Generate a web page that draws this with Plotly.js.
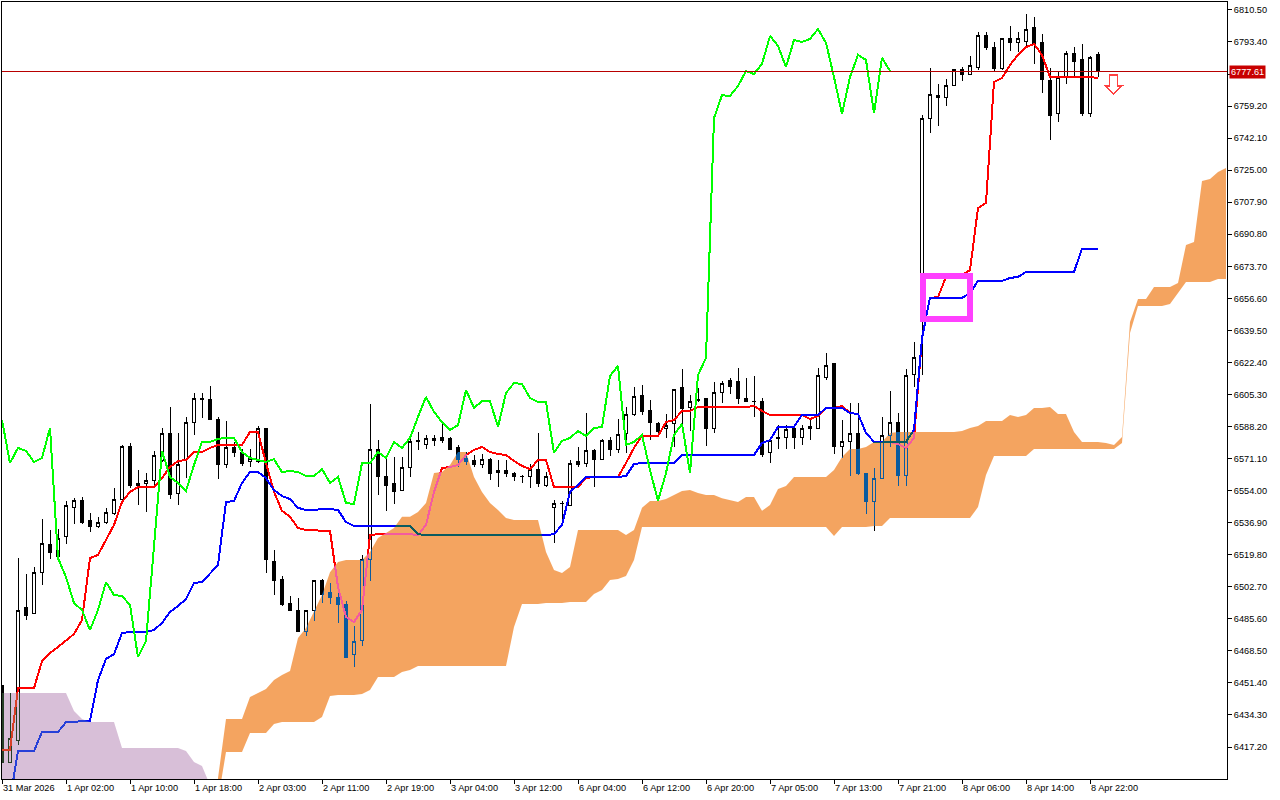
<!DOCTYPE html>
<html><head><meta charset="utf-8">
<script src="https://cdn.plot.ly/plotly-3.0.1.min.js"></script>
<style>
html,body{margin:0;padding:0;background:#fff}
#chart{width:1280px;height:800px}
.scatterlayer .js-fill{mix-blend-mode:difference}
.scatterlayer .js-line,.boxlayer path,.shapelayer path{shape-rendering:crispEdges}
</style></head><body><div id="chart"></div>
<script>
const opens=[6450.2,6409.2,6420.9,6491.4,6488.2,6510.5,6525.5,6518.6,6529.3,6545.2,
6549,6538.3,6534.6,6537.2,6542,6549.5,6577.3,6558,6557.6,6559.2,
6570.3,6584.3,6552.7,6570.8,6590.1,6603.4,6602.4,6592.2,6567.7,6576.8,
6574.1,6569.3,6569.3,6586.9,6516.4,6506.8,6494,6490.3,6479.1,6489.8,
6506.3,6499.4,6497.2,6493.5,6466.3,6474.3,6517.5,6575.7,6561.8,6557.6,
6554.3,6566.6,6581,6578.4,6581.6,6582.1,6581.6,6576.8,6571.4,6570.3,
6568.2,6570.8,6563.9,6565,6563.4,6561.8,6561.3,6565.5,6557,6544.8,
6547.4,6546.3,6569.3,6568.7,6575.2,6570.8,6580.5,6576.2,6584.3,6594.4,
6604.5,6597,6589.6,6586.9,6589.6,6608.8,6598.1,6602.4,6602.9,6587.4,
6606.6,6613,6612.5,6603.4,6601.8,6601.3,6574.6,6581.6,6582.1,6586.9,
6582.6,6588,6587.4,6614.6,6621.6,6577.8,6580,6584.3,6562.9,6548,
6560.7,6583.2,6590.1,6562.3,6616.2,6644,6752.8,6765,6764,6770.4,
6778.5,6775.8,6780,6797.1,6790.7,6779.5,6795,6792.9,6793.9,6800.9,
6792.9,6773.1,6755.5,6775.2,6787,6783.8,6755,6786.5];
const closes=[6409.2,6421.5,6490.3,6487.6,6510.5,6526,6521.2,6528.7,6546.3,6549,
6537.2,6534.6,6537.2,6542.6,6549.5,6577.3,6556.5,6557,6559.2,6573,
6584.3,6552.2,6567.7,6590.1,6603.4,6602.4,6592.2,6567.7,6576.8,6574.6,
6568.7,6571.4,6587.4,6517,6506.3,6493.5,6489.8,6479.1,6489.8,6505.8,
6498.8,6497.2,6493,6465.2,6473.7,6517,6575.7,6561.3,6557,6553.3,
6566.1,6580,6580,6581.6,6580.5,6581,6575.7,6570.8,6569.8,6568.2,
6570.8,6563.4,6565,6563.4,6561.3,6561.3,6565.5,6557.6,6561.3,6546.9,
6546.9,6568.7,6568.2,6575.2,6570.8,6580.5,6576.2,6583.7,6594.4,6604,
6596,6590.1,6585.8,6589,6608.2,6597.6,6601.8,6602.1,6587.4,6606.6,
6611.4,6609.8,6602.9,6601.3,6601.3,6573.5,6580.5,6582.1,6586.4,6582.6,
6586.9,6587.4,6615.2,6621,6577.8,6580,6584.3,6562.9,6548,6560.7,
6583.2,6590.1,6562.3,6615.7,6624.8,6752.8,6765.6,6764,6770.4,6778.5,
6775.8,6780.6,6797.1,6790.7,6779.5,6795,6792.9,6795,6800.3,6792.3,
6773.6,6754.4,6774.7,6787,6783.2,6755,6784.9,6777.6];
const highs=[6450.2,6446,6518,6509.5,6513.3,6538.8,6533,6533.5,6548.5,6550,
6550.6,6542,6540,6544.8,6555.4,6578.4,6579.4,6565,6563.4,6575.2,
6587.4,6598.6,6584.8,6593.3,6606.1,6606.1,6609.8,6593.3,6591.1,6580,
6576.2,6576.2,6588.5,6587.4,6522.3,6508.4,6497.8,6496.7,6490.3,6506.3,
6506.8,6504.7,6502.6,6495.1,6481.8,6519.7,6600.2,6581,6572.5,6572,
6572,6583.2,6585.3,6583.7,6583.7,6589.6,6582.6,6578.4,6574.6,6573,
6573.5,6571.4,6570.3,6570.3,6563.9,6562.3,6568.2,6584.8,6563.9,6549,
6548.5,6570.3,6577.3,6595.4,6576.2,6581.6,6582.6,6592.2,6598.6,6609.3,
6610.4,6602.4,6590.6,6594.9,6608.2,6618.9,6605,6608.8,6602.9,6612,
6612.5,6614.1,6619.4,6614.1,6615.2,6603.4,6581,6589,6589,6589,
6589,6591.7,6619.4,6627.4,6621.6,6591.7,6600.8,6600.8,6563.4,6566.1,
6593.3,6607.2,6595.4,6618.9,6633.3,6754.4,6779.5,6771,6773.6,6779,
6780,6785.9,6798.7,6798.7,6793.4,6795.5,6802,6798.7,6808.3,6806.7,
6797.7,6779.5,6777.4,6788.6,6790.7,6792.3,6785.9,6788];
const lows=[6409.2,6409.2,6418.2,6485,6488.2,6503.6,6517.5,6518.6,6525.5,6536.2,
6536.2,6531.9,6534,6536.2,6541,6548.5,6555.4,6546.3,6542.6,6555.4,
6569.3,6549.5,6546.3,6560.7,6583.7,6592.8,6591.7,6560.2,6566.1,6572,
6567.2,6566.6,6568.7,6510,6498.3,6492.4,6489.8,6479.1,6476.4,6484.4,
6494,6493.5,6483.4,6465.2,6459.9,6471.1,6505.8,6551.7,6543.2,6546.9,
6554.3,6561.3,6575.7,6576.2,6577.8,6579.4,6575.7,6566.6,6567.7,6566.6,
6566.1,6559.7,6555.9,6561.3,6559.2,6558.1,6555.4,6555.9,6555.9,6526,
6535.7,6546.3,6566.6,6566.6,6555.9,6570.8,6572.5,6574.1,6574.1,6593.8,
6594.4,6581,6582.6,6582.1,6577.3,6588,6585.8,6601.3,6577.8,6584.8,
6600.8,6605.6,6600.2,6601.3,6593.3,6572,6568.7,6576.2,6576.2,6576.2,
6578.4,6581,6587.4,6613,6573.5,6571.4,6561.8,6562.3,6541.6,6532.5,
6560.2,6577.3,6556.5,6556.5,6609.3,6615.7,6744.8,6748.6,6759.2,6770.4,
6772.6,6775.8,6778.5,6789.1,6777.9,6778.5,6788.6,6788,6790.7,6781.7,
6766.2,6741.1,6750.7,6771,6774.7,6753.9,6753.4,6774.7];
const tenkan=[6415.6,6415.6,6448.6,6448.6,6448.6,6463.1,6467.4,6470.6,6474.3,6477.5,
6485,6518,6519.7,6527.7,6535.7,6547.9,6553.3,6555.9,6555.9,6555.9,
6560.7,6566.6,6569.8,6570.3,6574.6,6574.6,6576.8,6578.4,6578.4,6578.4,
6578.4,6585.3,6585.3,6568.7,6553.3,6543.2,6540,6534.1,6533,6533,
6532.5,6532.5,6502.6,6486.6,6483.9,6490.3,6530.3,6530.8,6530.8,6530.8,
6530.8,6530.8,6530.3,6535.7,6553.3,6566.1,6566.6,6567.7,6573,6575.7,
6577.3,6574.6,6573.5,6573,6569.8,6567.2,6565.5,6570.3,6570.3,6555.9,
6555.9,6555.9,6555.9,6560.7,6561.3,6561.3,6561.3,6561.3,6568.7,6576.8,
6583.2,6583.2,6583.2,6590.6,6591.7,6596.5,6596.5,6598.6,6598.6,6598.6,
6598.6,6598.6,6598.6,6598.6,6599.2,6596.5,6594.4,6594.4,6594.4,6594.4,
6594.4,6592.2,6593.8,6598.1,6598.1,6599.2,6595.4,6594.9,6584.8,6580,
6580,6580,6578.9,6576.8,6582.1,6635.4,6656.8,6657.3,6668,6669,
6669,6671.7,6704.8,6707.5,6772,6774.2,6781.1,6786.5,6790.7,6792.3,
6786.5,6774.7,6774.7,6774.7,6774.7,6774.7,6774.7,6774.2];
const kijun=[6388.9,6388.9,6415.1,6415.1,6415.1,6425.2,6425.2,6425.2,6430.5,6430.5,
6431.1,6431.1,6452.9,6464.2,6466.8,6478,6478.6,6478.6,6478.6,6479.6,
6483.4,6489.2,6492.4,6496.2,6504.7,6505.2,6510,6514.3,6547.9,6548.5,
6558.1,6563.9,6563.9,6560.7,6554.3,6551.1,6549.5,6544.8,6543.7,6543.7,
6544.2,6544.2,6543.7,6537.2,6535.1,6535.1,6535.1,6535.1,6535.1,6535.1,
6535.1,6535.1,6530.8,6530.3,6530.3,6530.3,6530.3,6530.3,6530.3,6530.3,
6530.3,6530.3,6530.3,6530.3,6530.3,6530.3,6530.3,6530.3,6530.3,6530.8,
6535.7,6553.3,6557,6561.3,6561.3,6561.3,6561.3,6561.3,6561.8,6568.2,
6568.7,6568.7,6568.7,6568.7,6568.7,6573,6573,6573,6573,6573,
6573,6573,6573,6573,6573,6579.4,6581,6588,6588,6588,
6594.4,6594.4,6594.4,6598.1,6598.1,6598.1,6595.4,6594.9,6584.8,6580,
6580,6580,6580,6580,6586.4,6635.4,6656.8,6656.8,6656.8,6656.8,
6656.8,6659.4,6665.9,6665.9,6665.9,6665.9,6667.5,6668,6670.7,6670.7,
6670.7,6670.7,6670.7,6670.7,6670.7,6683,6683,6683];
const chikou=[6591.7,6568.7,6576.8,6575.2,6569.3,6571.4,6587.4,6518,6507.9,6494,
6490.3,6479.6,6490.3,6505.2,6498.3,6497.8,6493,6465.2,6473.7,6526,
6575.2,6561.3,6558.1,6553.8,6567.7,6580,6580,6581.6,6582.1,6582.1,
6574.6,6571.4,6570.3,6569.3,6570.8,6563.9,6564.5,6563.9,6561.8,6561.8,
6565.5,6558.1,6561.3,6547.4,6546.9,6568.7,6568.7,6574.6,6571.4,6580,
6576.8,6582.1,6593.3,6604,6596,6590.6,6586.4,6589,6607.7,6598.1,
6601.8,6601.8,6588,6606.1,6611.4,6610.9,6603.4,6601.3,6601.3,6574.1,
6580.5,6582.1,6585.8,6583.2,6587.4,6588,6615.2,6620.5,6578.4,6580,
6583.7,6565,6548.5,6563.4,6583.7,6589.6,6563.4,6615.7,6624.8,6752.8,
6765,6764.6,6769.9,6777.9,6776.3,6781.7,6796.6,6791.3,6780,6794.5,
6793.4,6795,6800.3,6792.9,6774.7,6755,6774.7,6786.5,6783.8,6755.5,
6784.9,6777.9];
const thistleTop=[6446,6446,6446,6446,6446,6446,6446,6446,6446,6436.4,
6432.1,6430.5,6430.5,6430.5,6430.5,6416.7,6416.7,6416.7,6416.7,6416.7,
6416.7,6416.7,6416.7,6415.1,6409.2,6407,6396.9];
const thistleBase=[6388.9,6388.9,6388.9,6388.9,6388.9,6388.9,6388.9,6388.9,6388.9,6388.9,
6388.9,6388.9,6388.9,6388.9,6388.9,6388.9,6388.9,6388.9,6388.9,6388.9,
6388.9,6388.9,6388.9,6388.9,6388.9,6388.9,6388.9];
const sandyTop=[6400.6,6432.1,6432.1,6432.1,6443.9,6446,6448.1,6452.9,6455.6,6457.8,
6475.4,6480.7,6489.2,6498.3,6510.5,6515.9,6517,6517,6517,6521.2,
6528.7,6531.4,6534.1,6540,6540,6542.6,6547.4,6563.4,6563.9,6567.7,
6574.6,6574.6,6561.3,6553.3,6547.4,6543.7,6539.4,6538.3,6538.3,6538.3,
6538.3,6521.2,6511.6,6510,6513.3,6533,6533,6533,6533,6533,
6533,6530.3,6533,6544.8,6548.5,6548.5,6549.5,6551.7,6553.8,6554.3,
6552.7,6551.7,6551.7,6550,6549,6547.9,6550.6,6550.6,6543.2,6546.3,
6554.9,6556.5,6561.3,6561.3,6561.3,6561.3,6561.3,6565,6572,6576.2,
6576.2,6577.3,6580,6580,6584.8,6585.3,6585.3,6585.3,6585.3,6585.3,
6585.3,6585.3,6585.3,6585.8,6587.4,6588.5,6591.1,6591.1,6591.1,6594.4,
6593.3,6594.4,6598.1,6598.1,6598.6,6594.9,6594.9,6585.3,6580,6580,
6580,6579.4,6578.4,6582.6,6644,6656.3,6656.3,6662.7,6662.7,6662.7,
6664.8,6685.1,6686.7,6719.2,6720.3,6724,6726.2];
const sandyBase=[6388.9,6414.5,6414.5,6414.5,6424.7,6424.7,6424.7,6429.5,6430.5,6430.5,
6430.5,6430.5,6430.5,6433.2,6444.4,6445,6445,6445,6445.5,6447.6,
6454.6,6454.6,6454.6,6457.2,6458.3,6460.4,6460.4,6460.4,6460.4,6460.4,
6460.4,6460.4,6460.4,6460.4,6460.4,6460.4,6460.4,6481.3,6493.5,6493.5,
6493.5,6494,6494,6494,6494.6,6494.6,6494.6,6498.8,6501,6506.3,
6506.8,6508.4,6517,6534.6,6534.6,6534.6,6534.6,6534.6,6534.6,6534.6,
6534.6,6534.6,6534.6,6534.6,6534.6,6534.6,6534.6,6534.6,6534.6,6534.6,
6534.6,6534.6,6534.6,6534.6,6534.6,6534.6,6534.6,6529.8,6534.6,6534.6,
6534.6,6534.6,6535.1,6535.1,6539.4,6539.4,6539.4,6539.4,6539.4,6539.4,
6539.4,6539.4,6539.4,6539.4,6539.4,6545.2,6562.3,6572.5,6572.5,6572.5,
6572.5,6572.5,6576.2,6576.2,6576.2,6576.2,6576.2,6576.2,6576.2,6576.2,
6576.2,6576.2,6576.2,6579.4,6638.1,6652.5,6652.5,6652.5,6652.5,6653.6,
6659.4,6665.3,6665.3,6665.3,6665.3,6666.9,6666.9];
const xTickIdx=[0,8,16,24,32,40,48,56,64,72,80,88,96,104,112,120,128,136];
const xTickText=["31 Mar 2026","1 Apr 02:00","1 Apr 10:00","1 Apr 18:00","2 Apr 03:00","2 Apr 11:00","2 Apr 19:00","3 Apr 04:00","3 Apr 12:00","6 Apr 04:00","6 Apr 12:00","6 Apr 20:00","7 Apr 05:00","7 Apr 13:00","7 Apr 21:00","8 Apr 06:00","8 Apr 14:00","8 Apr 22:00"];
const yTicks=[6810.5,6793.4,6776.3,6759.2,6742.1,6725,6707.9,6690.8,6673.7,6656.6,6639.5,6622.4,6605.3,6588.2,6571.1,6554,6536.9,6519.8,6502.7,6485.6,6468.5,6451.4,6434.3,6417.2];
const yTickText=["6810.50","6793.40","","6759.20","6742.10","6725.00","6707.90","6690.80","6673.70","6656.60","6639.50","6622.40","6605.30","6588.20","6571.10","6554.00","6536.90","6519.80","6502.70","6485.60","6468.50","6451.40","6434.30","6417.20"];
const lastPrice=6777.61;
const idx=a=>a.map((_,i)=>i);
const FONT='"Liberation Sans",Arial,sans-serif';
const FS=9.2;
const traces=[
 {type:'bar',x:[76.5625],y:[414.6],base:[6400.13],width:[153.125],marker:{color:'#fff',line:{width:0}},hoverinfo:'skip',showlegend:false},
 {type:'candlestick',x:idx(opens),open:opens,high:highs,low:lows,close:closes,
  increasing:{line:{color:'#000',width:1},fillcolor:'#fff'},
  decreasing:{line:{color:'#000',width:1},fillcolor:'#000'},
  whiskerwidth:0,hoverinfo:'skip',showlegend:false},
 {type:'scatter',mode:'lines',x:idx(tenkan),y:tenkan,line:{color:'#ff0000',width:2},hoverinfo:'skip',showlegend:false},
 {type:'scatter',mode:'lines',x:idx(kijun),y:kijun,line:{color:'#0000ff',width:2},hoverinfo:'skip',showlegend:false},
 {type:'scatter',mode:'lines',x:idx(chikou),y:chikou,line:{color:'#00ff00',width:2},hoverinfo:'skip',showlegend:false},
 {type:'scatter',mode:'lines',x:idx(thistleTop),y:thistleBase,line:{width:0},hoverinfo:'skip',showlegend:false},
 {type:'scatter',mode:'lines',x:idx(thistleTop),y:thistleTop,line:{width:0},fill:'tonexty',fillcolor:'#274027',hoverinfo:'skip',showlegend:false},
 {type:'scatter',mode:'lines',x:sandyTop.map((_,i)=>i+27),y:sandyBase,line:{width:0},hoverinfo:'skip',showlegend:false},
 {type:'scatter',mode:'lines',x:sandyTop.map((_,i)=>i+27),y:sandyTop,line:{width:0},fill:'tonexty',fillcolor:'#0b5b9f',hoverinfo:'skip',showlegend:false}
];
const layout={
 width:1280,height:800,margin:{l:2,r:53,t:2,b:21,pad:0},
 paper_bgcolor:'#fff',plot_bgcolor:'#fff',showlegend:false,hovermode:false,dragmode:false,boxgap:0.3,
 font:{family:FONT,size:FS,color:'#000'},
 xaxis:{type:'linear',range:[0,153.125],tickmode:'array',tickvals:xTickIdx,ticktext:xTickText,
  ticks:'outside',ticklen:4,tickcolor:'#000',tickwidth:1,showgrid:false,zeroline:false,
  showline:true,linecolor:'#000',linewidth:1,mirror:true,ticklabelposition:'outside right',
  rangeslider:{visible:false},tickfont:{family:FONT,size:FS,color:'#000'},automargin:false},
 yaxis:{side:'right',range:[6400.13,6814.73],tickmode:'array',tickvals:yTicks,ticktext:yTickText,
  ticks:'outside',ticklen:4,tickcolor:'#000',tickwidth:1,showgrid:false,zeroline:false,
  showline:true,linecolor:'#000',linewidth:1,mirror:true,
  tickfont:{family:FONT,size:FS,color:'#000'},automargin:false},
 shapes:[
  {type:'line',xref:'x',yref:'y',x0:0,x1:153.125,y0:lastPrice,y1:lastPrice,layer:'above',line:{color:'#b80000',width:1}},
  {type:'rect',xref:'x',yref:'y',x0:115.1,x1:121,y0:6645.6,y1:6668.5,line:{color:'#ff40ff',width:5.5},fillcolor:'rgba(0,0,0,0)'},
  {type:'path',xref:'x',yref:'y',path:'M138.4 6775.8 L139.4 6775.8 L139.4 6769.9 L140 6769.9 L138.9 6765.6 L137.9 6769.9 L138.4 6769.9 Z',line:{color:'#ff4040',width:1.3},fillcolor:'#fff'}
 ],
 annotations:[{xref:'paper',yref:'y',x:1.0015,y:lastPrice,xanchor:'left',yanchor:'middle',showarrow:false,
  text:'6777.61',font:{family:FONT,size:FS,color:'#fff'},bgcolor:'#c80000',borderpad:1}]
};
Plotly.newPlot('chart',traces,layout,{staticPlot:true,displayModeBar:false});
</script></body></html>
